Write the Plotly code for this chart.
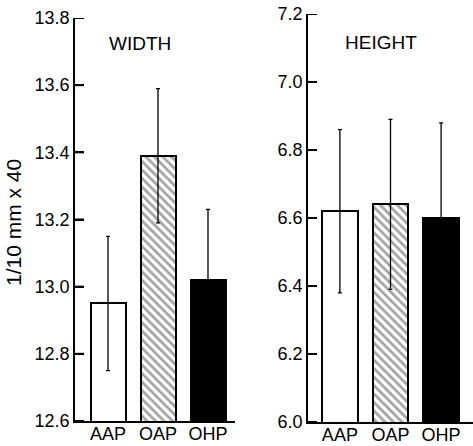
import plotly.graph_objects as go

groups = ["AAP", "OAP", "OHP"]
width_vals = [12.95, 13.39, 13.02]
width_err = [0.20, 0.20, 0.21]
height_vals = [6.62, 6.64, 6.60]
height_err = [0.24, 0.25, 0.28]
width_ticks = [12.6, 12.8, 13.0, 13.2, 13.4, 13.6, 13.8]
height_ticks = [6.0, 6.2, 6.4, 6.6, 6.8, 7.0, 7.2]

fills = ["white", "white", "black"]
shapes = ["", "\\", ""]

W, H = 473, 446
FONT = "Liberation Sans"
TICKLEN = 9

def px_x(x):
    return x / W

def px_y(y):
    return 1 - y / H

fig = go.Figure()

def add_bars(vals, errs, xa, ya):
    fig.add_trace(go.Bar(
        x=groups, y=vals, xaxis=xa, yaxis=ya, width=0.7,
        marker=dict(color=fills, line=dict(color="black", width=2),
                    pattern=dict(shape=shapes, fgcolor="black", bgcolor="white",
                                 size=6, solidity=0.45)),
        error_y=dict(type="data", array=errs, visible=True, color="black",
                     thickness=1.3, width=2),
        showlegend=False,
    ))

add_bars(width_vals, width_err, "x", "y")
add_bars(height_vals, height_err, "x2", "y2")

axis_common = dict(showline=True, linecolor="black", linewidth=1.5,
                   showgrid=False, zeroline=False, automargin=False,
                   ticklabeloverflow="allow",
                   tickfont=dict(family=FONT, size=18, color="black"))
ytick_common = dict(tickmode="array", ticks="inside", ticklen=TICKLEN, tickwidth=1.5,
                    tickcolor="black")
xtick_common = dict(ticks="", ticklabelstandoff=-4)

x1_dom = [px_x(75), px_x(235)]
x2_dom = [px_x(308), 1.0]

fig.update_layout(
    width=W, height=H,
    margin=dict(l=0, r=0, t=0, b=0),
    plot_bgcolor="white", paper_bgcolor="white",
    bargap=0,
    xaxis=dict(domain=x1_dom, range=[-0.66, 2.54], anchor="y",
               **xtick_common, **axis_common),
    yaxis=dict(domain=[px_y(421), px_y(18)], range=[12.6, 13.8], anchor="x",
               tickvals=width_ticks, ticktext=[f"{v:.1f}" for v in width_ticks],
               **ytick_common, **axis_common),
    xaxis2=dict(domain=x2_dom, range=[-0.63, 2.63], anchor="y2",
                **xtick_common, **axis_common),
    yaxis2=dict(domain=[px_y(422), px_y(14)], range=[6.0, 7.2], anchor="x2",
                tickvals=height_ticks, ticktext=[f"{v:.1f}" for v in height_ticks],
                **ytick_common, **axis_common),
)

# inward tick marks drawn explicitly at the tick values (paper x, data y)
for ticks, yr, dom in [(width_ticks, "y", x1_dom), (height_ticks, "y2", x2_dom)]:
    for v in ticks:
        fig.add_shape(type="line", xref="paper", yref=yr,
                      x0=dom[0], x1=dom[0] + TICKLEN / W, y0=v, y1=v,
                      layer="above", line=dict(color="black", width=2))

fig.add_annotation(text="1/10 mm x 40", x=px_x(13), y=px_y(223), xref="paper", yref="paper",
                   textangle=-90, showarrow=False, xanchor="center", yanchor="middle",
                   font=dict(family=FONT, size=21, color="black"))
fig.add_annotation(text="WIDTH", x=px_x(140), y=px_y(44), xref="paper", yref="paper",
                   showarrow=False, xanchor="center", yanchor="middle",
                   font=dict(family=FONT, size=19, color="black"))
fig.add_annotation(text="HEIGHT", x=px_x(381), y=px_y(42), xref="paper", yref="paper",
                   showarrow=False, xanchor="center", yanchor="middle",
                   font=dict(family=FONT, size=19, color="black"))

fig.write_html("out.html", config={"displayModeBar": False},
               post_script="document.body.style.margin='0px';")
